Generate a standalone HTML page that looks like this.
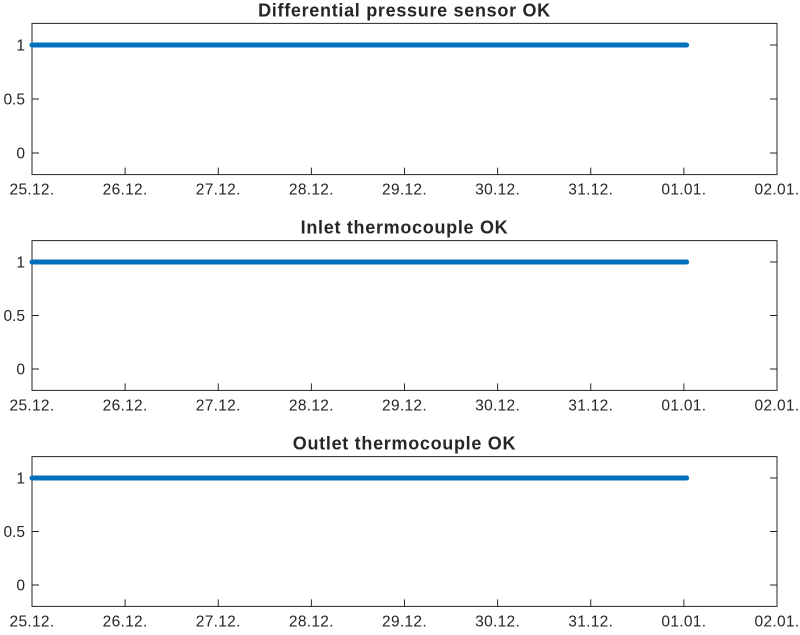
<!DOCTYPE html>
<html><head><meta charset="utf-8"><style>
body{margin:0;background:#fff;}
svg text{font-family:"Liberation Sans",sans-serif;fill:#262626;}
</style></head><body>
<svg id="chart" width="800" height="630" xmlns="http://www.w3.org/2000/svg"></svg>
<script>
const titles = ["Differential pressure sensor OK","Inlet thermocouple OK","Outlet thermocouple OK"];
const xTickLabels = ["25.12.","26.12.","27.12.","28.12.","29.12.","30.12.","31.12.","01.01.","02.01."];
const yTicks = [0,0.5,1];
const yTickLabels = ["0","0.5","1"];
const seriesStartDay = [0,0,0];
const seriesEndDay = [7.03,7.03,7.03];
const seriesValue = [1,1,1];

const NS="http://www.w3.org/2000/svg";
const svg=document.getElementById('chart');
const panels=[{top:23.4,bottom:174.6},{top:240.6,bottom:390.4},{top:456.6,bottom:606.4}];
const L=32,R=777,xMin=0,xMax=8,yMin=-0.2,yMax=1.2;
function mk(t,a){const e=document.createElementNS(NS,t);for(const k in a)e.setAttribute(k,a[k]);svg.appendChild(e);return e;}
const xs=d=>L+(d-xMin)/(xMax-xMin)*(R-L);
panels.forEach((p,i)=>{
  const ys=v=>p.bottom-(v-yMin)/(yMax-yMin)*(p.bottom-p.top);
  const box=mk('rect',{x:L,y:p.top,width:R-L,height:p.bottom-p.top,fill:'none',stroke:'#262626','stroke-width':1});
  
  
  xTickLabels.forEach((lab,j)=>{
    const x=xs(j);
    mk('line',{x1:x,x2:x,y1:p.bottom,y2:p.bottom-7,stroke:'#262626'});
    const t=mk('text',{x:x,y:p.bottom+20,'text-anchor':'middle','font-size':15.5,'letter-spacing':0.3});
    t.textContent=lab;
    
    
  });
  yTicks.forEach((v,j)=>{
    const y=ys(v);
    mk('line',{x1:L,x2:L+7,y1:y,y2:y,stroke:'#262626'});
    mk('line',{x1:R,x2:R-7,y1:y,y2:y,stroke:'#262626'});
    const t=mk('text',{x:L-7,y:y+5.5,'text-anchor':'end','font-size':15.5});
    t.textContent=yTickLabels[j];
    
    
  });
  const ln=mk('line',{x1:xs(seriesStartDay[i]),x2:xs(seriesEndDay[i]),y1:ys(seriesValue[i]),y2:ys(seriesValue[i]),stroke:'#0072BD','stroke-width':5,'stroke-linecap':'round'});
  
  
  const tt=mk('text',{x:(L+R)/2,y:p.top-7,'text-anchor':'middle','font-size':18,'font-weight':'bold','letter-spacing':0.7});
  tt.textContent=titles[i];
  
  
});
</script>
</body></html>
